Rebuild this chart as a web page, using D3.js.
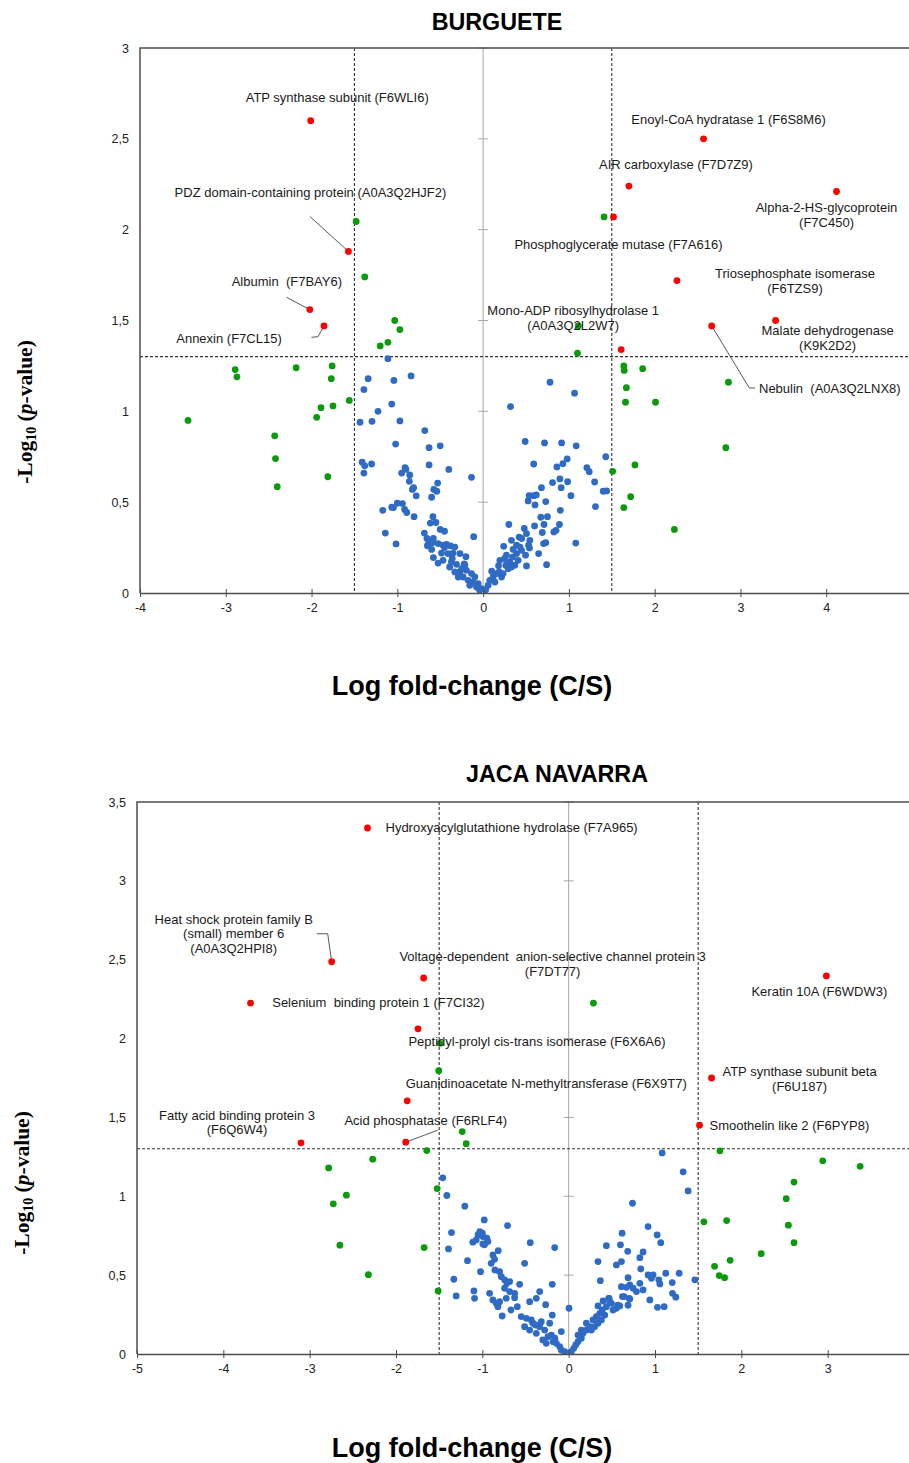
<!DOCTYPE html>
<html>
<head>
<meta charset="utf-8">
<script src="https://cdn.jsdelivr.net/npm/d3@7"></script>
<style>
  body { margin: 0; background: #fff; }
  svg { display: block; font-family: "Liberation Sans", Arial, sans-serif; }
</style>
</head>
<body>
<div class="canvas"></div>
<script>
// ---------- BURGUETE : [log fold-change, -log10 p] ----------
const burgueteBlue = [
  [-1.11,1.29],[-1.34,1.18],[-1.39,1.12],[-1.04,1.17],[-0.84,1.195],[-1.065,1.04],[-1.225,1.0],[-1.435,0.94],
  [-1.295,0.945],[-0.97,0.947],[-1.02,0.82],[-0.68,0.894],[-0.63,0.80],[-0.50,0.81],[-1.41,0.72],[-1.38,0.70],
  [-1.30,0.71],[-1.39,0.66],[-0.91,0.69],[-0.90,0.68],[-0.95,0.66],[-0.855,0.65],[-0.86,0.615],[-0.63,0.705],
  [-0.40,0.68],[-0.53,0.605],[-0.575,0.57],[-0.54,0.56],[-0.60,0.527],[-0.81,0.58],[-0.825,0.57],[-0.78,0.535],
  [-0.135,0.637],[-1.0,0.494],[-0.94,0.492],[-1.065,0.472],[-1.045,0.47],[-1.17,0.455],[-0.915,0.46],[-0.89,0.443],
  [-0.805,0.42],[-0.585,0.42],[-0.615,0.385],[-0.55,0.388],[-1.14,0.33],[-1.015,0.27],[-0.50,0.35],[-0.45,0.34],
  [-0.11,0.31],[-0.685,0.33],[-0.655,0.30],[-0.634,0.275],[-0.595,0.277],[-0.58,0.30],[-0.525,0.272],[-0.467,0.263],
  [-0.427,0.268],[-0.38,0.259],[-0.33,0.253],[-0.485,0.22],[-0.41,0.217],[-0.27,0.217],[-0.58,0.195],[-0.525,0.165],
  [-0.467,0.18],[-0.37,0.171],[-0.31,0.158],[-0.213,0.153],[-0.27,0.116],[-0.194,0.125],[-0.135,0.107],[-0.233,0.088],
  [-0.175,0.07],[-0.117,0.06],[-0.077,0.033],[-0.04,0.015],[-0.155,0.042],[-0.25,0.134],[-0.33,0.116],[-0.39,0.143],
  [-0.29,0.088],[-0.097,0.088],[-0.058,0.052],[-0.02,0.024],[-0.2,0.2],[-0.35,0.22],[-0.45,0.25],[-0.6,0.24],
  [-0.65,0.26],[-0.36,0.19],[-0.22,0.16],
  [0.78,1.16],[1.066,1.10],[0.32,1.026],[0.49,0.834],[0.716,0.826],[0.915,0.826],[1.085,0.81],[0.59,0.71],
  [0.86,0.694],[0.93,0.712],[0.98,0.738],[1.21,0.69],[1.237,0.668],[1.30,0.611],[1.40,0.56],[1.44,0.562],
  [1.43,0.75],[1.31,0.476],[1.08,0.275],[0.895,0.628],[0.91,0.58],[0.985,0.613],[1.024,0.536],[0.81,0.608],
  [0.68,0.58],[0.537,0.536],[0.59,0.536],[0.62,0.54],[0.525,0.507],[0.605,0.485],[0.73,0.503],[0.90,0.455],
  [0.673,0.417],[0.75,0.42],[0.89,0.377],[0.60,0.369],[0.71,0.377],[0.825,0.336],[0.85,0.345],[0.69,0.333],
  [0.73,0.277],[0.647,0.217],[0.705,0.272],[0.74,0.156],[0.30,0.377],[0.48,0.355],[0.506,0.327],[0.42,0.308],
  [0.33,0.29],[0.39,0.263],[0.24,0.257],[0.545,0.29],[0.53,0.263],[0.54,0.248],[0.448,0.235],[0.495,0.208],
  [0.506,0.149],[0.43,0.253],[0.078,0.07],[0.117,0.088],[0.058,0.042],[0.03,0.018],[0.137,0.06],[0.156,0.107],
  [0.187,0.116],[0.215,0.088],[0.195,0.18],[0.233,0.107],[0.265,0.153],[0.292,0.134],[0.272,0.208],[0.31,0.171],
  [0.343,0.198],[0.37,0.153],[0.39,0.217],[0.408,0.18],[0.33,0.143],[0.1,0.12],[0.18,0.15],[0.25,0.19],
  [0.35,0.24],[0.45,0.30]
];
const burgueteGreen = [
  [-3.44,0.95],[-2.89,1.23],[-2.87,1.19],[-2.43,0.865],[-2.42,0.74],[-2.40,0.585],[-2.18,1.24],[-1.94,0.967],
  [-1.89,1.02],[-1.81,0.64],[-1.76,1.25],[-1.77,1.18],[-1.75,1.03],[-1.56,1.06],[-1.20,1.36],[-1.11,1.38],
  [-1.03,1.50],[-0.97,1.45],[-1.48,2.045],[-1.38,1.74],[1.10,1.32],[1.11,1.47],[1.64,1.25],[1.645,1.225],
  [1.86,1.235],[1.67,1.13],[1.66,1.05],[2.01,1.05],[2.86,1.16],[2.83,0.80],[1.77,0.705],[1.51,0.67],
  [1.72,0.53],[1.64,0.47],[2.23,0.35],[1.41,2.07]
];
const burgueteRed = [
  [-2.01,2.60],[-1.57,1.88],[-2.02,1.56],[-1.855,1.47],[2.57,2.50],[1.70,2.24],
  [4.12,2.21],[1.52,2.07],[2.26,1.72],[3.41,1.50],[2.665,1.47],[1.61,1.34]
];
const burgueteNames = [
  ["ATP synthase subunit (F6WLI6)"],
  ["PDZ domain-containing protein (A0A3Q2HJF2)"],
  ["Albumin  (F7BAY6)"],
  ["Annexin (F7CL15)"],
  ["Enoyl-CoA hydratase 1 (F6S8M6)"],
  ["AIR carboxylase (F7D7Z9)"],
  ["Alpha-2-HS-glycoprotein", "(F7C450)"],
  ["Phosphoglycerate mutase (F7A616)"],
  ["Triosephosphate isomerase", "(F6TZS9)"],
  ["Malate dehydrogenase", "(K9K2D2)"],
  ["Nebulin  (A0A3Q2LNX8)"],
  ["Mono-ADP ribosylhydrolase 1", "(A0A3Q2L2W7)"]
];
const burgueteXTicks = [-4, -3, -2, -1, 0, 1, 2, 3, 4];
const burgueteYTicks = [0, 0.5, 1, 1.5, 2, 2.5, 3];

// ---------- JACA NAVARRA ----------
const jacaBlue = [
  [-1.458,1.117],[-1.411,1.005],[-1.203,0.937],[-0.978,0.85],[-0.708,0.814],[-1.11,0.709],[-0.445,0.706],[-0.162,0.675],
  [-1.357,0.77],[-1.392,0.666],[-1.172,0.592],[-0.51,0.575],[-1.021,0.522],[-1.33,0.474],[-1.098,0.40],[-1.09,0.353],
  [-1.303,0.368],[-0.19,0.442],[-1.03,0.776],[-1.0,0.766],[-1.05,0.755],[-0.994,0.745],[-0.947,0.734],[-0.936,0.713],
  [-0.975,0.692],[-0.994,0.698],[-1.07,0.723],[-0.816,0.655],[-0.878,0.628],[-0.858,0.60],[-0.897,0.575],[-0.855,0.533],
  [-0.80,0.522],[-0.78,0.49],[-0.742,0.47],[-0.715,0.448],[-0.684,0.459],[-0.742,0.417],[-0.684,0.396],[-0.626,0.385],
  [-0.723,0.353],[-0.80,0.332],[-0.878,0.343],[-0.839,0.321],[-0.82,0.30],[-0.77,0.241],[-0.669,0.279],[-0.626,0.357],
  [-0.568,0.442],[-0.452,0.332],[-0.375,0.353],[-0.336,0.396],[-0.267,0.313],[-0.19,0.247],[-0.916,0.385],[-0.595,0.30],
  [-0.55,0.237],[-0.49,0.226],[-0.433,0.216],[-0.414,0.195],[-0.51,0.173],[-0.452,0.152],[-0.375,0.131],[-0.336,0.173],
  [-0.278,0.152],[-0.24,0.11],[-0.30,0.089],[-0.20,0.12],[-0.18,0.078],[-0.143,0.068],[-0.104,0.047],[-0.085,0.025],
  [-0.046,0.015],[-0.22,0.195],[-0.317,0.205],[-0.383,0.184],[-0.085,0.142],[-0.26,0.068],[-0.16,0.10],
  [0.004,0.29],[0.688,0.484],[0.708,0.438],[0.669,0.423],[0.61,0.427],[0.623,0.364],[0.70,0.353],[0.746,0.417],
  [0.785,0.396],[0.824,0.448],[0.862,0.406],[0.94,0.343],[0.495,0.321],[0.464,0.353],[0.476,0.332],[0.398,0.336],
  [0.437,0.30],[0.39,0.279],[0.34,0.305],[0.32,0.237],[0.36,0.258],[0.418,0.247],[0.282,0.216],[0.244,0.173],
  [0.205,0.152],[0.166,0.131],[0.147,0.10],[0.108,0.078],[0.081,0.057],[0.058,0.036],[0.031,0.015],[0.205,0.195],
  [0.263,0.152],[0.30,0.173],[0.34,0.195],[0.379,0.216],[0.514,0.279],[0.553,0.29],[0.592,0.305],[0.147,0.152],
  [0.108,0.12],[1.083,1.275],[1.326,1.155],[1.384,1.034],[0.739,0.956],[0.92,0.808],[1.025,0.755],[1.067,0.706],
  [0.437,0.687],[0.619,0.766],[0.60,0.692],[0.684,0.651],[0.611,0.586],[0.34,0.586],[0.553,0.565],[0.862,0.647],
  [0.824,0.611],[0.835,0.539],[0.367,0.465],[1.28,0.512],[1.125,0.512],[1.462,0.47],[0.92,0.501],[0.978,0.501],
  [0.959,0.48],[1.044,0.47],[1.056,0.444],[1.20,0.453],[1.203,0.385],[1.241,0.36],[1.029,0.296],[1.106,0.30],
  [0.642,0.364],[0.708,0.349],[0.688,0.309],[0.568,0.309],[0.468,0.353]
];
const jacaGreen = [
  [0.287,2.225],[-1.49,1.97],[-1.505,1.796],[-1.233,1.41],[-1.187,1.333],[-1.644,1.29],[-2.27,1.235],[-2.78,1.18],
  [-2.575,1.007],[-2.726,0.952],[-1.523,1.049],[-2.65,0.69],[-1.674,0.675],[-2.32,0.503],[-1.512,0.40],[1.752,1.288],
  [2.943,1.225],[3.376,1.19],[2.61,1.09],[2.52,0.985],[1.566,0.838],[1.83,0.846],[2.545,0.817],[2.61,0.706],
  [2.23,0.636],[1.87,0.594],[1.69,0.556],[1.744,0.497],[1.806,0.484]
];
const jacaRed = [
  [-2.33,3.335],[-2.745,2.487],[-1.68,2.384],[-3.685,2.225],[-1.745,2.062],[-1.87,1.605],
  [-1.887,1.343],[-3.10,1.339],[2.985,2.397],[1.655,1.75],[1.516,1.451]
];
const jacaNames = [
  ["Hydroxyacylglutathione hydrolase (F7A965)"],
  ["Heat shock protein family B", "(small) member 6", "(A0A3Q2HPI8)"],
  ["Voltage-dependent  anion-selective channel protein 3", "(F7DT77)"],
  ["Selenium  binding protein 1 (F7CI32)"],
  ["Peptidyl-prolyl cis-trans isomerase (F6X6A6)"],
  ["Guanidinoacetate N-methyltransferase (F6X9T7)"],
  ["Acid phosphatase (F6RLF4)"],
  ["Fatty acid binding protein 3", "(F6Q6W4)"],
  ["Keratin 10A (F6WDW3)"],
  ["ATP synthase subunit beta", "(F6U187)"],
  ["Smoothelin like 2 (F6PYP8)"]
];
const jacaXTicks = [-5, -4, -3, -2, -1, 0, 1, 2, 3];
const jacaYTicks = [0, 0.5, 1, 1.5, 2, 2.5, 3, 3.5];

// thresholds
const pCut = 1.301;   // -log10(0.05)
const fcCut = 1.5;

// label placement, in px from the red dot (layout only)
const burgueteLayout = [
  {dx: 26.5, dy: -19, a: "middle"},
  {dx: -38, dy: -54, a: "middle", leader: [[-38.6, -35]]},
  {dx: -23, dy: -24, a: "middle", leader: [[-23.3, -12.3]]},
  {dx: -95, dy: 17, a: "middle", leader: [[-6, 10.7], [-12.6, 11.4]]},
  {dx: 25, dy: -15, a: "middle"},
  {dx: 47, dy: -17, a: "middle"},
  {dx: -10, dy: 20, a: "middle"},
  {dx: 5, dy: 32, a: "middle"},
  {dx: 118, dy: -3, a: "middle"},
  {dx: 52, dy: 14, a: "middle"},
  {dx: 47.3, dy: 66.7, a: "start", leader: [[37.6, 62], [43.3, 62]]},
  {dx: -48, dy: -35, a: "middle"}
];
const jacaLayout = [
  {dx: 18, dy: 4, a: "start"},
  {dx: -98, dy: -38, a: "middle", leader: [[-4, -28], [-15, -28]]},
  {dx: 129, dy: -17, a: "middle"},
  {dx: 21.7, dy: 4, a: "start"},
  {dx: 119, dy: 17, a: "middle"},
  {dx: 139, dy: -13, a: "middle"},
  {dx: 20, dy: -17, a: "middle", leader: [[32, -12]]},
  {dx: -64, dy: -23, a: "middle"},
  {dx: -7, dy: 20, a: "middle"},
  {dx: 88, dy: -2, a: "middle"},
  {dx: 10, dy: 5, a: "start"}
];

const svg = d3.select('.canvas')
  .append('svg')
    .attr('width', 909)
    .attr('height', 1463);

const fmt = d => String(d).replace('.', ',');
const colBlue = '#2f6bc4', colGreen = '#0b9a0b', colRed = '#ff0000';

const drawPanel = (p) => {
  const x = d3.scaleLinear().domain(p.xDomain).range([p.left, p.right]);
  const y = d3.scaleLinear().domain(p.yDomain).range([p.bottom, p.top]);
  const g = svg.append('g');

  // title
  svg.append('text')
    .attr('x', p.titleX).attr('y', p.titleY)
    .attr('text-anchor', 'middle')
    .attr('font-size', 23.3).attr('font-weight', 'bold')
    .text(p.title);

  // gray zero line with crossing ticks
  g.append('line')
    .attr('x1', x(0)).attr('x2', x(0))
    .attr('y1', p.top).attr('y2', p.bottom)
    .attr('stroke', '#a6a6a6').attr('stroke-width', 1);
  g.selectAll('.ztick')
    .data(p.yTicks.filter(d => d > 0))
    .enter().append('line')
      .attr('x1', x(0) - 5).attr('x2', x(0) + 5)
      .attr('y1', d => y(d)).attr('y2', d => y(d))
      .attr('stroke', '#a6a6a6');

  // threshold lines
  const dash = '3,2';
  g.append('line')
    .attr('x1', p.left).attr('x2', p.right)
    .attr('y1', y(pCut)).attr('y2', y(pCut))
    .attr('stroke', '#333').attr('stroke-width', 1.1).attr('stroke-dasharray', dash);
  [-fcCut, fcCut].forEach(v => {
    g.append('line')
      .attr('x1', x(v)).attr('x2', x(v))
      .attr('y1', p.top).attr('y2', p.bottom)
      .attr('stroke', '#333').attr('stroke-width', 1.1).attr('stroke-dasharray', dash);
  });

  // points
  const dots = (data, col) => g.append('g').selectAll('circle')
    .data(data).enter().append('circle')
      .attr('cx', d => x(d[0])).attr('cy', d => y(d[1]))
      .attr('r', 3.4).attr('fill', col);
  dots(p.blue, colBlue);
  dots(p.green, colGreen);

  // leader lines
  p.red.forEach((d, i) => {
    const l = p.layout[i];
    if (!l.leader) return;
    const pts = [[x(d[0]), y(d[1])]].concat(l.leader.map(o => [x(d[0]) + o[0], y(d[1]) + o[1]]));
    g.append('path')
      .attr('d', d3.line()(pts))
      .attr('fill', 'none').attr('stroke', '#595959').attr('stroke-width', 1);
  });
  dots(p.red, colRed);

  // labels
  p.red.forEach((d, i) => {
    const l = p.layout[i];
    const t = g.append('text')
      .attr('font-size', 13).attr('fill', '#1a1a1a')
      .attr('text-anchor', l.a)
      .style('white-space', 'pre');
    p.names[i].forEach((s, k) => {
      t.append('tspan')
        .attr('x', x(d[0]) + l.dx)
        .attr('y', y(d[1]) + l.dy + k * p.lineH)
        .text(s);
    });
  });

  // frame (top + left), bottom axis
  g.append('path')
    .attr('d', `M${p.left},${p.bottom}V${p.top}H${p.right}`)
    .attr('fill', 'none').attr('stroke', '#4d4d4d').attr('stroke-width', 1.5);

  const yAxis = d3.axisLeft(y).tickValues(p.yTicks).tickSize(0).tickPadding(11).tickFormat(fmt);
  const yg = g.append('g').attr('transform', `translate(${p.left},0)`).call(yAxis);
  yg.select('.domain').remove();
  yg.selectAll('text').attr('font-size', 12.5).attr('fill', '#222').attr('font-family', '"Liberation Sans", Arial, sans-serif');

  const xAxis = d3.axisBottom(x).tickValues(p.xTicks).tickSizeInner(4).tickSizeOuter(0).tickPadding(6).tickFormat(fmt);
  const xg = g.append('g').attr('transform', `translate(0,${p.bottom})`).call(xAxis);
  xg.select('.domain').attr('stroke', '#4d4d4d').attr('stroke-width', 1.5);
  xg.selectAll('.tick line').attr('y1', -4).attr('y2', 4).attr('stroke', '#4d4d4d');
  xg.selectAll('text').attr('font-size', 12.5).attr('fill', '#222').attr('font-family', '"Liberation Sans", Arial, sans-serif');

  // axis titles
  svg.append('text')
    .attr('x', p.xTitleX).attr('y', p.xTitleY)
    .attr('text-anchor', 'middle')
    .attr('font-size', 27).attr('font-weight', 'bold')
    .text('Log fold-change (C/S)');

  const yt = svg.append('text')
    .attr('transform', `translate(${p.yTitleX},${p.yTitleY}) rotate(-90)`)
    .attr('text-anchor', 'middle')
    .attr('font-family', '"Liberation Serif", "Times New Roman", serif')
    .attr('font-size', 21.5).attr('font-weight', 'bold');
  yt.append('tspan').text('-Log');
  yt.append('tspan').attr('font-size', 14).attr('dy', 4).text('10');
  yt.append('tspan').attr('dy', -4).text(' (');
  yt.append('tspan').attr('font-style', 'italic').text('p');
  yt.append('tspan').text('-value)');
};

drawPanel({
  title: 'BURGUETE', titleX: 497, titleY: 30,
  xDomain: [-4, 5], yDomain: [0, 3],
  left: 140, right: 912, top: 48, bottom: 593,
  xTicks: burgueteXTicks, yTicks: burgueteYTicks,
  blue: burgueteBlue, green: burgueteGreen, red: burgueteRed,
  names: burgueteNames, layout: burgueteLayout, lineH: 15,
  xTitleX: 472, xTitleY: 695, yTitleX: 32, yTitleY: 412
});

drawPanel({
  title: 'JACA NAVARRA', titleX: 557, titleY: 782,
  xDomain: [-5, 4], yDomain: [0, 3.5],
  left: 137, right: 914, top: 802, bottom: 1354,
  xTicks: jacaXTicks, yTicks: jacaYTicks,
  blue: jacaBlue, green: jacaGreen, red: jacaRed,
  names: jacaNames, layout: jacaLayout, lineH: 14.5,
  xTitleX: 472, xTitleY: 1457, yTitleX: 29, yTitleY: 1183
});
</script>
</body>
</html>
